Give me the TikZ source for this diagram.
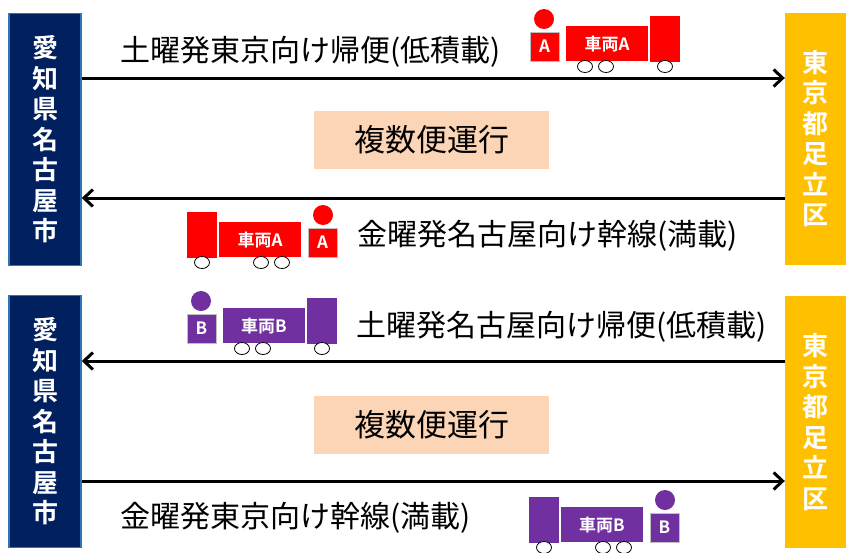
\documentclass[tikz,border=0pt]{standalone}
\usepackage{fontspec}
\setmainfont{Noto Sans CJK JP}[BoldFont={Noto Sans CJK JP Bold}]
\usepackage{tikz}
\usetikzlibrary{arrows.meta,positioning}
\definecolor{navy}{RGB}{0,32,96}
\definecolor{edgeblue}{RGB}{46,117,182}
\definecolor{gold}{RGB}{255,192,0}
\definecolor{peach}{RGB}{251,213,181}
\definecolor{truckred}{RGB}{255,0,0}
\definecolor{truckpurple}{RGB}{112,48,160}

\begin{document}
\begin{tikzpicture}[x=1pt,y=-1pt,
  citybox/.style={minimum width=72, minimum height=252, inner sep=0, text=white, align=center,
    font=\bfseries\fontsize{26}{30.5}\selectfont},
  nagoyabox/.style={citybox, fill=navy, draw=edgeblue, line width=1.5pt},
  tokyobox/.style={citybox, fill=gold, minimum width=61},
  planbox/.style={fill=peach, minimum width=235, minimum height=58, font=\fontsize{31}{31}\selectfont},
  routelabel/.style={anchor=west, inner sep=0, font=\fontsize{30}{30}\selectfont},
  route/.style={line width=3pt},
  tip/.style={-{Straight Barb[length=9pt,width=17pt]}},
  pics/truck/.style 2 args={code={
    \fill[#1, draw=gray!50, line width=.5pt] (-36,-29) rectangle (-7,0);
    \node[text=white, font=\bfseries\fontsize{17}{17}\selectfont] at (-21.5,-14.5) {#2};
    \fill[#1] (-22,-42) circle (10);
    \fill[#1] (0,-35) rectangle (82,0);
    \node[text=white, font=\bfseries\fontsize{17}{17}\selectfont] at (41,-17) {車両#2};
    \fill[#1] (84,-45) rectangle (114,1);
    \foreach \w in {19,40,99}
      \draw[fill=white, line width=.8pt] (\w,5.5) ellipse (7.5 and 6);
  }}]
\useasboundingbox (0,0) rectangle (848,552);

% upper half: Saturday return to Tokyo
\node[nagoyabox] (nagoyaA) at (45,139.5) {愛\\知\\県\\名\\古\\屋\\市};
\node[tokyobox] (tokyoA) at (815.5,138.5) {東\\京\\都\\足\\立\\区};
\coordinate (lineA1) at (0,78);
\coordinate (lineA2) at (0,198);
\draw[route,tip] (nagoyaA.east |- lineA1) -- (tokyoA.west |- lineA1);
\draw[route,tip] (tokyoA.west |- lineA2) -- (nagoyaA.east |- lineA2);
\node[routelabel] (satA) at (120,52) {土曜発東京向け帰便(低積載)};
\node[routelabel] (friA) at (357,236) {金曜発名古屋向け幹線(満載)};
\node[planbox] (multiA) at (431.5,140) {複数便運行};
\pic at (566,61) {truck={truckred}{A}};
\pic[xscale=-1] at (301,257) {truck={truckred}{A}};

% lower half: Saturday return to Nagoya
\node[nagoyabox] (nagoyaB) at (45,421.5) {愛\\知\\県\\名\\古\\屋\\市};
\node[tokyobox] (tokyoB) at (815.5,422) {東\\京\\都\\足\\立\\区};
\coordinate (lineB1) at (0,361);
\coordinate (lineB2) at (0,481);
\draw[route,tip] (tokyoB.west |- lineB1) -- (nagoyaB.east |- lineB1);
\draw[route,tip] (nagoyaB.east |- lineB2) -- (tokyoB.west |- lineB2);
\node[routelabel] (satB) at (356,327) {土曜発名古屋向け帰便(低積載)};
\node[routelabel] (friB) at (120,518) {金曜発東京向け幹線(満載)};
\node[planbox] (multiB) at (431.5,424.5) {複数便運行};
\pic at (223,343) {truck={truckpurple}{B}};
\pic[xscale=-1] at (643,542) {truck={truckpurple}{B}};
\end{tikzpicture}
\end{document}
